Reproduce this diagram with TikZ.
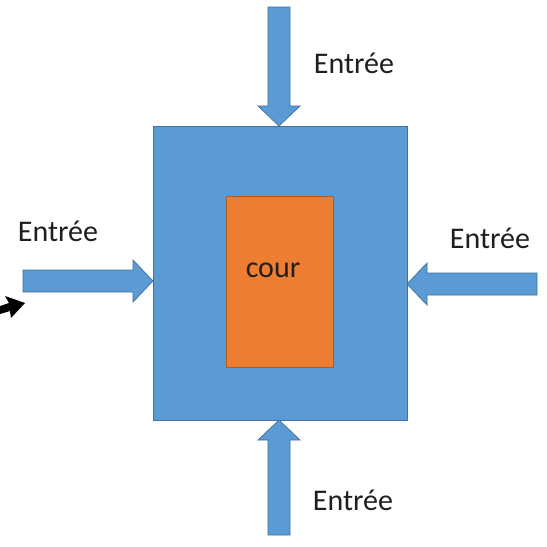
\documentclass[tikz,border=0pt]{standalone}
\usepackage{fontspec}
\setmainfont{Carlito}
\definecolor{boxblue}{HTML}{5B9BD5}
\definecolor{boxline}{HTML}{41719C}
\definecolor{courorange}{HTML}{ED7D31}
\definecolor{courline}{HTML}{AE5A21}

\tikzset{
  txt/.style={font=\fontsize{30}{36}\selectfont, text=black!88, inner sep=0pt},
  inflow/.style={fill=boxblue, draw=boxline, line width=0.7pt, line join=miter},
  % block arrow whose tip sits at the pic origin, pointing along +x
  pics/inarrow/.style={code={
    \path[inflow] (0,0) -- (-20,-21) -- (-20,-11) -- (-#1,-11) -- (-#1,11)
      -- (-20,11) -- (-20,21) -- cycle;}}
}

\begin{document}
\begin{tikzpicture}[x=1pt,y=-1pt]
\useasboundingbox (0,0) rectangle (547,547);
\fill[white] (0,0) rectangle (547,547);

% building and courtyard
\node[draw=boxline, fill=boxblue, line width=0.7pt, inner sep=0pt,
      minimum width=254pt, minimum height=294pt] (building) at (280,273) {};
\node[draw=courline, fill=courorange, line width=0.7pt, inner sep=0pt,
      minimum width=107pt, minimum height=171pt] (cour) at (279.5,281.5) {};
\node[txt] (courtxt) at (273,270) {cour};

% entrances
\pic at (153,281) {inarrow=130};
\pic[rotate=180] at (407,284) {inarrow=130};
\pic[rotate=-90] at (279,126) {inarrow=119};
\pic[rotate=90] at (279,420) {inarrow=115};

\node[txt] (inN) at (354,63) {Entrée};
\node[txt] (inW) at (58,231) {Entrée};
\node[txt] (inE) at (490,238) {Entrée};
\node[txt] (inS) at (353,500) {Entrée};

% pointer at the left edge
\fill[black] (0,306) -- (9,303) -- (5,296) -- (25,303) -- (11,318) -- (10,311)
  -- (0,314) -- cycle;
\end{tikzpicture}
\end{document}
